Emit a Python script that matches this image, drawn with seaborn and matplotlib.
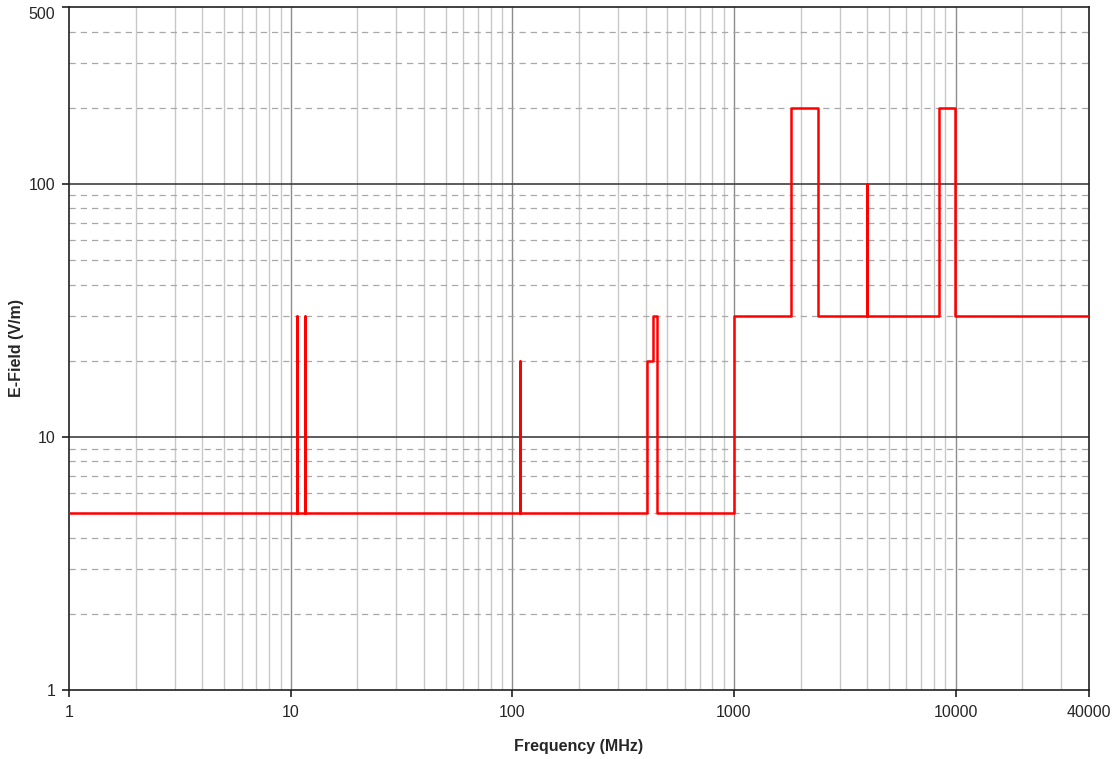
import matplotlib
matplotlib.use("Agg")
import matplotlib.pyplot as plt
import seaborn as sns
import pandas as pd
from matplotlib.ticker import FixedLocator, NullFormatter

# step profile: each level applies from its frequency up to the next one
freq_mhz = [1, 10.7, 10.7, 11.6, 11.6, 108, 108, 404, 433, 450, 1000,
            1800, 2400, 4000, 4000, 8400, 9900, 40000]
field_vm = [5, 30, 5, 30, 5, 20, 5, 20, 30, 5, 30,
            200, 30, 100, 30, 200, 30, 30]

x_ticks = [1, 10, 100, 1000, 10000, 40000]
x_labels = ["1", "10", "100", "1000", "10000", "40000"]
y_ticks = [1, 10, 100, 500]
y_labels = ["1", "10", "100", "500"]

sns.set_style("white")
plt.rcParams["font.family"] = ["Liberation Sans", "DejaVu Sans"]

df = pd.DataFrame({"freq": freq_mhz, "field": field_vm})

fig = plt.figure(figsize=(11.17, 7.59), dpi=100)
ax = fig.add_axes([0.0618, 0.0909, 0.9132, 0.8999])

ax.set_xscale("log")
ax.set_yscale("log")
ax.set_xlim(1, 40000)
ax.set_ylim(1, 500)

# grid: vertical minor / major, horizontal dashed minor / dark major
x_minor = [m * 10 ** d for d in range(0, 5) for m in range(2, 10) if m * 10 ** d < 40000]
y_minor = [m * 10 ** d for d in range(0, 3) for m in range(2, 10) if m * 10 ** d < 500]
for xv in x_minor:
    ax.axvline(xv, color="#c8c8c8", lw=1.0, zorder=1)
for xv in [10, 100, 1000, 10000]:
    ax.axvline(xv, color="#8c8c8c", lw=1.0, zorder=1)
for yv in y_minor:
    ax.axhline(yv, color="#a8a8a8", lw=0.9, ls=(0, (5, 4)), zorder=1)
for yv in [10, 100]:
    ax.axhline(yv, color="#404040", lw=1.2, zorder=1)

sns.lineplot(data=df, x="freq", y="field", drawstyle="steps-post", sort=False,
             estimator=None, color="#ff0000", linewidth=1.8, ax=ax, zorder=3)

ax.xaxis.set_major_locator(FixedLocator(x_ticks))
ax.set_xticklabels(x_labels)
ax.xaxis.set_minor_formatter(NullFormatter())
ax.yaxis.set_major_locator(FixedLocator(y_ticks))
ax.set_yticklabels(y_labels)
ax.yaxis.set_minor_formatter(NullFormatter())
ax.tick_params(which="major", direction="out", length=5, width=1.2, color="#202020",
               labelsize=11.5, bottom=True, left=True)
ax.tick_params(axis="x", pad=6)
ax.tick_params(axis="y", pad=5)
ax.tick_params(which="minor", length=0)
for lbl in ax.get_yticklabels():
    if lbl.get_text() == "500":
        lbl.set_verticalalignment("top")

for sp in ax.spines.values():
    sp.set_color("#202020")
    sp.set_linewidth(1.2)

ax.set_xlabel("Frequency (MHz)", fontsize=11.5, fontweight="bold")
ax.set_ylabel("E-Field (V/m)", fontsize=11.5, fontweight="bold")
ax.xaxis.set_label_coords(0.5, -0.072)
ax.yaxis.set_label_coords(-0.044, 0.5)

fig.savefig("out.png", dpi=100)
